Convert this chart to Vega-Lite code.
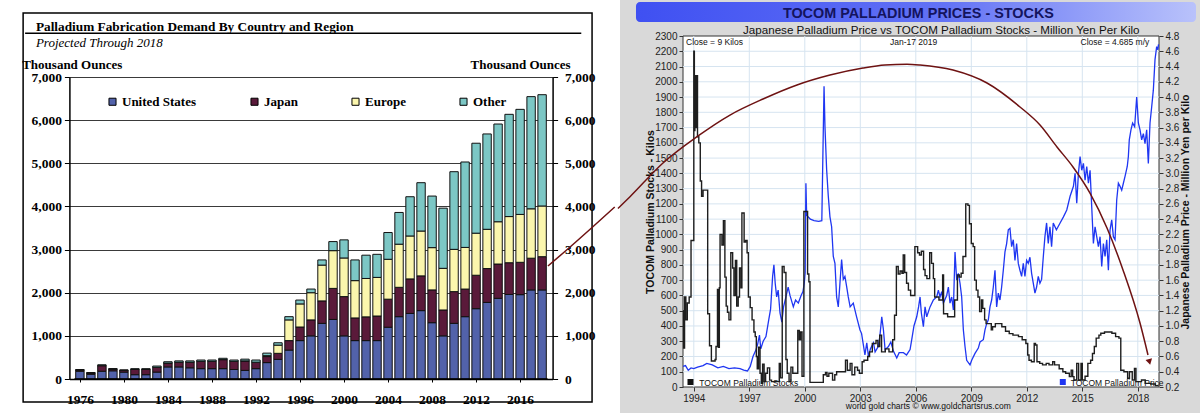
{
"$schema": "https://vega.github.io/schema/vega-lite/v6.json",
"background": "white",
"padding": 0,
"bounds": "flush",
"spacing": 0,
"config": {"view": {"stroke": null}, "font": "Liberation Sans"},
"datasets": {
"one": [{}],
"regionOrder": [{"region":"United States","o":1},{"region":"Japan","o":2},{"region":"Europe","o":3},{"region":"Other","o":4}],
"demand": [
{"yr":1976,"United States":180,"Japan":30,"Europe":0,"Other":10},
{"yr":1977,"United States":110,"Japan":30,"Europe":0,"Other":10},
{"yr":1978,"United States":180,"Japan":130,"Europe":0,"Other":20},
{"yr":1979,"United States":190,"Japan":40,"Europe":0,"Other":10},
{"yr":1980,"United States":160,"Japan":40,"Europe":0,"Other":10},
{"yr":1981,"United States":100,"Japan":120,"Europe":0,"Other":20},
{"yr":1982,"United States":100,"Japan":120,"Europe":0,"Other":20},
{"yr":1983,"United States":160,"Japan":110,"Europe":0,"Other":30},
{"yr":1984,"United States":280,"Japan":90,"Europe":0,"Other":30},
{"yr":1985,"United States":280,"Japan":110,"Europe":0,"Other":30},
{"yr":1986,"United States":260,"Japan":130,"Europe":0,"Other":30},
{"yr":1987,"United States":240,"Japan":170,"Europe":0,"Other":30},
{"yr":1988,"United States":240,"Japan":170,"Europe":0,"Other":30},
{"yr":1989,"United States":240,"Japan":210,"Europe":0,"Other":30},
{"yr":1990,"United States":220,"Japan":190,"Europe":0,"Other":30},
{"yr":1991,"United States":200,"Japan":220,"Europe":0,"Other":40},
{"yr":1992,"United States":240,"Japan":150,"Europe":0,"Other":50},
{"yr":1993,"United States":380,"Japan":140,"Europe":20,"Other":60},
{"yr":1994,"United States":455,"Japan":140,"Europe":190,"Other":55},
{"yr":1995,"United States":670,"Japan":220,"Europe":480,"Other":75},
{"yr":1996,"United States":890,"Japan":315,"Europe":535,"Other":90},
{"yr":1997,"United States":1000,"Japan":370,"Europe":630,"Other":85},
{"yr":1998,"United States":1290,"Japan":520,"Europe":830,"Other":120},
{"yr":1999,"United States":1380,"Japan":720,"Europe":875,"Other":210},
{"yr":2000,"United States":1000,"Japan":910,"Europe":895,"Other":420},
{"yr":2001,"United States":890,"Japan":525,"Europe":865,"Other":480},
{"yr":2002,"United States":890,"Japan":550,"Europe":890,"Other":540},
{"yr":2003,"United States":890,"Japan":570,"Europe":895,"Other":535},
{"yr":2004,"United States":1200,"Japan":650,"Europe":925,"Other":620},
{"yr":2005,"United States":1445,"Japan":680,"Europe":1000,"Other":735},
{"yr":2006,"United States":1520,"Japan":800,"Europe":995,"Other":910},
{"yr":2007,"United States":1585,"Japan":805,"Europe":1040,"Other":1120},
{"yr":2008,"United States":1305,"Japan":760,"Europe":980,"Other":1195},
{"yr":2009,"United States":1000,"Japan":600,"Europe":965,"Other":1395},
{"yr":2010,"United States":1290,"Japan":735,"Europe":980,"Other":1800},
{"yr":2011,"United States":1445,"Japan":640,"Europe":965,"Other":1980},
{"yr":2012,"United States":1630,"Japan":775,"Europe":975,"Other":2085},
{"yr":2013,"United States":1775,"Japan":785,"Europe":910,"Other":2210},
{"yr":2014,"United States":1870,"Japan":795,"Europe":980,"Other":2265},
{"yr":2015,"United States":1960,"Japan":735,"Europe":1070,"Other":2370},
{"yr":2016,"United States":1955,"Japan":750,"Europe":1110,"Other":2435},
{"yr":2017,"United States":2065,"Japan":735,"Europe":1145,"Other":2600},
{"yr":2018,"United States":2065,"Japan":770,"Europe":1175,"Other":2580}
],
"curveL": [
{"t":2018.53,"v":2619},{"t":2020.49,"v":3048},{"t":2022.54,"v":3512},{"t":2024.6,"v":3987}
],
"curveR": [
{"t":1989.9,"k":1170},{"t":1990.551,"k":1247},{"t":1992.335,"k":1468},{"t":1994.173,"k":1640},{"t":1995.957,"k":1782},{"t":1997.741,"k":1887},{"t":1999.578,"k":1979},{"t":2001.362,"k":2044},{"t":2003.146,"k":2090},{"t":2004.335,"k":2110},{"t":2005.524,"k":2115},{"t":2006.227,"k":2110},{"t":2008.011,"k":2077},{"t":2009.849,"k":1992},{"t":2011.632,"k":1835},{"t":2012.714,"k":1717},{"t":2013.632,"k":1573},{"t":2014.497,"k":1442},{"t":2015.416,"k":1271},{"t":2016.335,"k":1042},{"t":2017.2,"k":767},{"t":2018.119,"k":419},{"t":2018.551,"k":210}
],
"hgrid": [{"k":100},{"k":200},{"k":300},{"k":400},{"k":500},{"k":600},{"k":700},{"k":800},{"k":900},{"k":1000},{"k":1100},{"k":1200},{"k":1300},{"k":1400},{"k":1500},{"k":1600},{"k":1700},{"k":1800},{"k":1900},{"k":2000},{"k":2100},{"k":2200}],
"vgrid": [{"t":1994},{"t":1997},{"t":2000},{"t":2003},{"t":2006},{"t":2009},{"t":2012},{"t":2015},{"t":2018}],
"stocks": [
{"t":1993.42,"k":500},{"t":1993.45,"k":255},{"t":1993.5,"k":590},{"t":1993.57,"k":440},{"t":1993.65,"k":550},{"t":1993.75,"k":590},{"t":1993.85,"k":960},{"t":1994.0,"k":2200},{"t":1994.03,"k":1680},{"t":1994.06,"k":2040},{"t":1994.1,"k":1700},{"t":1994.15,"k":2040},{"t":1994.2,"k":1640},{"t":1994.27,"k":1600},{"t":1994.35,"k":1350},{"t":1994.42,"k":1250},{"t":1994.5,"k":1290},{"t":1994.75,"k":480},{"t":1994.85,"k":270},{"t":1994.95,"k":170},{"t":1995.15,"k":180},{"t":1995.2,"k":265},{"t":1995.28,"k":640},{"t":1995.33,"k":260},{"t":1995.38,"k":650},{"t":1995.42,"k":1000},{"t":1995.52,"k":930},{"t":1995.6,"k":1090},{"t":1995.68,"k":720},{"t":1995.75,"k":530},{"t":1995.82,"k":490},{"t":1995.9,"k":440},{"t":1996.0,"k":880},{"t":1996.1,"k":780},{"t":1996.17,"k":600},{"t":1996.25,"k":830},{"t":1996.32,"k":530},{"t":1996.4,"k":590},{"t":1996.47,"k":780},{"t":1996.55,"k":650},{"t":1996.6,"k":1140},{"t":1996.72,"k":950},{"t":1996.8,"k":960},{"t":1996.88,"k":880},{"t":1996.95,"k":590},{"t":1997.05,"k":520},{"t":1997.15,"k":440},{"t":1997.25,"k":360},{"t":1997.32,"k":330},{"t":1997.38,"k":200},{"t":1997.43,"k":120},{"t":1997.5,"k":260},{"t":1997.58,"k":90},{"t":1997.65,"k":25},{"t":1997.72,"k":150},{"t":1997.8,"k":35},{"t":1997.88,"k":90},{"t":1997.98,"k":125},{"t":1998.1,"k":45},{"t":1998.2,"k":35},{"t":1998.62,"k":155},{"t":1998.68,"k":60},{"t":1998.78,"k":790},{"t":1998.88,"k":750},{"t":1998.98,"k":180},{"t":1999.05,"k":90},{"t":1999.15,"k":35},{"t":1999.25,"k":130},{"t":1999.35,"k":90},{"t":1999.62,"k":370},{"t":1999.7,"k":310},{"t":1999.77,"k":360},{"t":1999.85,"k":70},{"t":1999.95,"k":1150},{"t":2000.15,"k":740},{"t":2000.22,"k":690},{"t":2000.28,"k":30},{"t":2001.0,"k":80},{"t":2001.12,"k":95},{"t":2001.2,"k":70},{"t":2001.3,"k":90},{"t":2001.5,"k":45},{"t":2001.62,"k":80},{"t":2001.72,"k":100},{"t":2002.2,"k":175},{"t":2002.3,"k":110},{"t":2002.45,"k":155},{"t":2002.55,"k":80},{"t":2002.7,"k":130},{"t":2002.85,"k":110},{"t":2002.95,"k":90},{"t":2003.1,"k":165},{"t":2003.2,"k":175},{"t":2003.4,"k":200},{"t":2003.5,"k":230},{"t":2003.65,"k":285},{"t":2003.85,"k":305},{"t":2003.95,"k":265},{"t":2004.05,"k":340},{"t":2004.15,"k":230},{"t":2004.35,"k":250},{"t":2004.55,"k":230},{"t":2004.75,"k":310},{"t":2004.85,"k":470},{"t":2004.95,"k":790},{"t":2005.05,"k":740},{"t":2005.15,"k":760},{"t":2005.25,"k":745},{"t":2005.32,"k":865},{"t":2005.4,"k":750},{"t":2005.5,"k":680},{"t":2005.6,"k":635},{"t":2005.72,"k":600},{"t":2005.95,"k":920},{"t":2006.1,"k":880},{"t":2006.2,"k":865},{"t":2006.3,"k":890},{"t":2006.42,"k":770},{"t":2006.5,"k":730},{"t":2006.6,"k":710},{"t":2006.75,"k":880},{"t":2006.85,"k":810},{"t":2006.95,"k":710},{"t":2007.02,"k":590},{"t":2007.25,"k":570},{"t":2007.45,"k":735},{"t":2007.5,"k":480},{"t":2007.72,"k":460},{"t":2008.1,"k":570},{"t":2008.25,"k":735},{"t":2008.35,"k":720},{"t":2008.45,"k":745},{"t":2008.55,"k":855},{"t":2008.7,"k":1200},{"t":2008.82,"k":1190},{"t":2008.9,"k":1070},{"t":2009.0,"k":940},{"t":2009.1,"k":920},{"t":2009.18,"k":700},{"t":2009.27,"k":635},{"t":2009.36,"k":590},{"t":2009.45,"k":495},{"t":2009.55,"k":570},{"t":2009.62,"k":515},{"t":2009.72,"k":440},{"t":2009.8,"k":415},{"t":2010.08,"k":375},{"t":2010.15,"k":395},{"t":2010.3,"k":415},{"t":2010.65,"k":395},{"t":2010.85,"k":365},{"t":2011.05,"k":350},{"t":2011.25,"k":340},{"t":2011.55,"k":330},{"t":2011.75,"k":310},{"t":2011.95,"k":285},{"t":2012.05,"k":210},{"t":2012.12,"k":175},{"t":2012.25,"k":165},{"t":2012.4,"k":285},{"t":2012.47,"k":275},{"t":2012.55,"k":165},{"t":2012.7,"k":155},{"t":2012.85,"k":145},{"t":2013.05,"k":155},{"t":2013.2,"k":145},{"t":2013.4,"k":165},{"t":2013.5,"k":145},{"t":2013.75,"k":120},{"t":2013.95,"k":100},{"t":2014.1,"k":90},{"t":2014.3,"k":68},{"t":2014.4,"k":110},{"t":2014.48,"k":68},{"t":2014.55,"k":46},{"t":2014.7,"k":155},{"t":2014.8,"k":46},{"t":2014.93,"k":155},{"t":2015.0,"k":46},{"t":2015.15,"k":70},{"t":2015.3,"k":155},{"t":2015.45,"k":175},{"t":2015.55,"k":220},{"t":2015.65,"k":265},{"t":2015.75,"k":320},{"t":2015.9,"k":340},{"t":2016.0,"k":352},{"t":2016.2,"k":360},{"t":2016.6,"k":352},{"t":2016.8,"k":330},{"t":2016.98,"k":320},{"t":2017.08,"k":110},{"t":2017.25,"k":100},{"t":2017.45,"k":57},{"t":2017.55,"k":100},{"t":2017.7,"k":46},{"t":2017.82,"k":122},{"t":2017.9,"k":35},{"t":2018.2,"k":46},{"t":2018.4,"k":24},{"t":2018.7,"k":20},{"t":2018.95,"k":9},{"t":2019.12,"k":9}
],
"price": [
{"t":1993.42,"p":0.47},{"t":1993.55,"p":0.48},{"t":1993.7,"p":0.42},{"t":1993.85,"p":0.45},{"t":1994.0,"p":0.44},{"t":1994.2,"p":0.46},{"t":1994.5,"p":0.48},{"t":1994.7,"p":0.51},{"t":1995.0,"p":0.49},{"t":1995.3,"p":0.45},{"t":1995.6,"p":0.47},{"t":1995.9,"p":0.44},{"t":1996.2,"p":0.45},{"t":1996.5,"p":0.44},{"t":1996.7,"p":0.42},{"t":1996.9,"p":0.41},{"t":1997.05,"p":0.47},{"t":1997.2,"p":0.6},{"t":1997.35,"p":0.68},{"t":1997.45,"p":0.76},{"t":1997.55,"p":0.88},{"t":1997.62,"p":0.7},{"t":1997.75,"p":0.8},{"t":1997.9,"p":0.86},{"t":1998.05,"p":1.08},{"t":1998.15,"p":1.22},{"t":1998.26,"p":1.65},{"t":1998.33,"p":1.8},{"t":1998.4,"p":1.56},{"t":1998.48,"p":1.38},{"t":1998.56,"p":1.47},{"t":1998.66,"p":1.17},{"t":1998.76,"p":1.05},{"t":1998.85,"p":1.25},{"t":1998.98,"p":1.38},{"t":1999.1,"p":1.51},{"t":1999.2,"p":1.4},{"t":1999.38,"p":1.25},{"t":1999.5,"p":1.34},{"t":1999.65,"p":1.3},{"t":1999.8,"p":1.4},{"t":1999.9,"p":1.45},{"t":1999.97,"p":1.56},{"t":2000.02,"p":1.7},{"t":2000.06,"p":2.87},{"t":2000.1,"p":2.45},{"t":2000.3,"p":2.4},{"t":2000.5,"p":2.38},{"t":2000.75,"p":2.37},{"t":2000.92,"p":2.38},{"t":2000.97,"p":3.13},{"t":2001.04,"p":4.14},{"t":2001.09,"p":3.61},{"t":2001.18,"p":3.05},{"t":2001.27,"p":2.7},{"t":2001.36,"p":2.43},{"t":2001.45,"p":2.3},{"t":2001.54,"p":1.91},{"t":2001.63,"p":1.82},{"t":2001.72,"p":1.38},{"t":2001.81,"p":1.25},{"t":2001.9,"p":1.56},{"t":2001.99,"p":1.87},{"t":2002.08,"p":1.61},{"t":2002.17,"p":1.65},{"t":2002.26,"p":1.52},{"t":2002.35,"p":1.38},{"t":2002.45,"p":1.25},{"t":2002.62,"p":1.3},{"t":2002.8,"p":1.12},{"t":2002.98,"p":0.95},{"t":2003.07,"p":0.9},{"t":2003.25,"p":0.62},{"t":2003.35,"p":0.78},{"t":2003.44,"p":0.6},{"t":2003.55,"p":0.7},{"t":2003.71,"p":0.78},{"t":2003.8,"p":0.66},{"t":2003.97,"p":0.73},{"t":2004.06,"p":0.87},{"t":2004.16,"p":1.12},{"t":2004.25,"p":0.95},{"t":2004.34,"p":0.69},{"t":2004.52,"p":0.73},{"t":2004.65,"p":0.79},{"t":2004.79,"p":0.67},{"t":2004.97,"p":0.58},{"t":2005.1,"p":0.65},{"t":2005.33,"p":0.65},{"t":2005.5,"p":0.62},{"t":2005.69,"p":0.69},{"t":2005.8,"p":0.85},{"t":2005.9,"p":1.0},{"t":2006.05,"p":1.12},{"t":2006.15,"p":1.25},{"t":2006.23,"p":1.38},{"t":2006.3,"p":1.17},{"t":2006.41,"p":0.99},{"t":2006.5,"p":1.25},{"t":2006.59,"p":1.12},{"t":2006.77,"p":1.25},{"t":2006.95,"p":1.34},{"t":2007.13,"p":1.38},{"t":2007.22,"p":1.47},{"t":2007.31,"p":1.38},{"t":2007.4,"p":1.45},{"t":2007.49,"p":1.3},{"t":2007.67,"p":1.4},{"t":2007.76,"p":1.51},{"t":2007.85,"p":1.3},{"t":2007.94,"p":1.38},{"t":2008.03,"p":1.21},{"t":2008.12,"p":1.97},{"t":2008.21,"p":1.6},{"t":2008.3,"p":1.69},{"t":2008.39,"p":1.56},{"t":2008.48,"p":1.38},{"t":2008.57,"p":0.95},{"t":2008.66,"p":0.73},{"t":2008.75,"p":0.55},{"t":2008.93,"p":0.49},{"t":2009.02,"p":0.55},{"t":2009.2,"p":0.64},{"t":2009.38,"p":0.71},{"t":2009.47,"p":0.79},{"t":2009.65,"p":0.82},{"t":2009.74,"p":0.95},{"t":2009.83,"p":1.03},{"t":2009.92,"p":1.08},{"t":2010.01,"p":1.25},{"t":2010.1,"p":1.34},{"t":2010.19,"p":1.51},{"t":2010.28,"p":1.73},{"t":2010.37,"p":1.25},{"t":2010.46,"p":1.43},{"t":2010.55,"p":1.34},{"t":2010.64,"p":1.51},{"t":2010.73,"p":1.73},{"t":2010.82,"p":1.97},{"t":2010.91,"p":2.08},{"t":2011.0,"p":2.26},{"t":2011.09,"p":2.28},{"t":2011.18,"p":2.04},{"t":2011.27,"p":2.13},{"t":2011.36,"p":1.86},{"t":2011.45,"p":2.08},{"t":2011.54,"p":1.82},{"t":2011.63,"p":1.73},{"t":2011.72,"p":1.65},{"t":2011.81,"p":1.82},{"t":2011.9,"p":1.65},{"t":2011.99,"p":1.86},{"t":2012.08,"p":1.82},{"t":2012.17,"p":1.9},{"t":2012.26,"p":1.69},{"t":2012.35,"p":1.56},{"t":2012.44,"p":1.43},{"t":2012.53,"p":1.51},{"t":2012.62,"p":1.65},{"t":2012.71,"p":1.56},{"t":2012.8,"p":1.61},{"t":2012.89,"p":1.9},{"t":2012.98,"p":2.17},{"t":2013.07,"p":2.35},{"t":2013.16,"p":2.08},{"t":2013.25,"p":2.3},{"t":2013.34,"p":2.04},{"t":2013.43,"p":2.35},{"t":2013.6,"p":2.26},{"t":2013.8,"p":2.35},{"t":2013.98,"p":2.43},{"t":2014.16,"p":2.52},{"t":2014.34,"p":2.7},{"t":2014.52,"p":2.83},{"t":2014.61,"p":3.0},{"t":2014.7,"p":2.61},{"t":2014.79,"p":3.0},{"t":2014.88,"p":3.22},{"t":2014.97,"p":3.04},{"t":2015.06,"p":3.13},{"t":2015.15,"p":2.91},{"t":2015.24,"p":3.09},{"t":2015.33,"p":2.87},{"t":2015.42,"p":3.04},{"t":2015.51,"p":2.56},{"t":2015.6,"p":2.08},{"t":2015.69,"p":2.3},{"t":2015.78,"p":2.17},{"t":2015.87,"p":2.04},{"t":2015.96,"p":2.17},{"t":2016.05,"p":1.78},{"t":2016.14,"p":2.08},{"t":2016.23,"p":1.91},{"t":2016.32,"p":2.13},{"t":2016.41,"p":1.73},{"t":2016.5,"p":2.26},{"t":2016.59,"p":2.39},{"t":2016.68,"p":2.17},{"t":2016.77,"p":2.13},{"t":2016.86,"p":2.65},{"t":2016.95,"p":2.87},{"t":2017.04,"p":2.83},{"t":2017.13,"p":2.78},{"t":2017.22,"p":2.87},{"t":2017.31,"p":2.96},{"t":2017.43,"p":3.09},{"t":2017.49,"p":3.22},{"t":2017.54,"p":3.44},{"t":2017.63,"p":3.57},{"t":2017.72,"p":3.66},{"t":2017.83,"p":3.61},{"t":2017.94,"p":4.0},{"t":2018.03,"p":3.66},{"t":2018.12,"p":3.57},{"t":2018.21,"p":3.44},{"t":2018.3,"p":3.52},{"t":2018.39,"p":3.39},{"t":2018.48,"p":3.57},{"t":2018.57,"p":3.13},{"t":2018.66,"p":3.66},{"t":2018.75,"p":3.87},{"t":2018.84,"p":4.09},{"t":2018.93,"p":4.49},{"t":2019.02,"p":4.66},{"t":2019.08,"p":4.62},{"t":2019.12,"p":4.69}
]
},
"hconcat": [
{
"width": 620, "height": 413,
"view": {"fill": "white", "stroke": null},
"layer": [
{"data": {"name": "one"}, "mark": {"type": "rect", "fill": "white", "fillOpacity": 0, "stroke": "black", "strokeWidth": 1.5},
 "encoding": {
  "x": {"datum": 1970.84, "type": "quantitative", "scale": {"domain": [1975.5, 2018.5], "range": [69.4, 552.6], "nice": false, "zero": false}, "axis": null},
  "x2": {"datum": 2022.54},
  "y": {"datum": 8483, "type": "quantitative", "scale": {"domain": [0, 7000], "range": [379, 77], "nice": false, "zero": false}, "axis": null},
  "y2": {"datum": -533}}},
{"data": {"name": "demand"},
 "transform": [
  {"fold": ["United States", "Japan", "Europe", "Other"], "as": ["region", "value"]},
  {"lookup": "region", "from": {"data": {"name": "regionOrder"}, "key": "region", "fields": ["o"]}}
 ],
 "mark": {"type": "bar", "width": 8.4, "stroke": "#111111", "strokeWidth": 1},
 "encoding": {
  "x": {"field": "yr", "type": "quantitative", "scale": {"domain": [1975.5, 2018.5], "range": [69.4, 552.6], "nice": false, "zero": false},
    "axis": {"orient": "bottom", "offset": -34, "values": [1976,1980,1984,1988,1992,1996,2000,2004,2008,2012,2016], "format": "d", "grid": false, "domain": true, "domainColor": "black", "domainWidth": 1.5, "ticks": true, "tickSize": 3, "tickColor": "black", "labelFont": "Liberation Serif", "labelFontWeight": "bold", "labelFontSize": 13.5, "labelColor": "black", "labelPadding": 10, "labelFlush": false, "labelOverlap": false, "title": null}},
  "y": {"field": "value", "type": "quantitative", "stack": "zero", "scale": {"domain": [0, 7000], "range": [379, 77], "nice": false, "zero": false},
    "axis": {"orient": "left", "offset": -69.4, "values": [0,1000,2000,3000,4000,5000,6000,7000], "format": ",d", "grid": true, "gridColor": "#3a3a3a", "gridWidth": 1, "domain": true, "domainColor": "black", "domainWidth": 1.5, "tickSize": 5, "tickColor": "black", "labelPadding": 3, "labelFont": "Liberation Serif", "labelFontWeight": "bold", "labelFontSize": 13.5, "labelColor": "black", "labelFlush": false,
      "title": "Thousand Ounces", "titleAngle": 0, "titleX": -47.7, "titleY": 68, "titleAlign": "left", "titleBaseline": "alphabetic", "titleFont": "Liberation Serif", "titleFontWeight": "bold", "titleFontSize": 13, "titleColor": "black"}},
  "color": {"field": "region", "type": "nominal",
    "scale": {"domain": ["United States", "Japan", "Europe", "Other"], "range": ["#5262aa", "#5a1a3a", "#fbf6ad", "#7cc7c5"]},
    "legend": {"orient": "none", "legendX": 106, "legendY": 95, "direction": "horizontal", "columns": 4, "columnPadding": 51, "title": null, "symbolType": "square", "symbolSize": 50, "symbolStrokeColor": "black", "symbolStrokeWidth": 1, "symbolOpacity": 1, "labelFont": "Liberation Serif", "labelFontWeight": "bold", "labelFontSize": 13, "labelColor": "black", "labelOffset": 3, "padding": 0}},
  "order": {"field": "o", "type": "quantitative", "sort": "ascending"}
 }},
{"data": {"name": "one"}, "mark": {"type": "rule", "color": "black", "strokeWidth": 1.5},
 "encoding": {
  "x": {"datum": 1975.5, "type": "quantitative", "scale": {"domain": [1975.5, 2018.5], "range": [69.4, 552.6], "nice": false, "zero": false}, "axis": null},
  "x2": {"datum": 2018.5},
  "y": {"datum": 0, "type": "quantitative", "scale": {"domain": [0, 7000], "range": [379, 77], "nice": false, "zero": false},
    "axis": {"orient": "right", "offset": -67.4, "values": [0,1000,2000,3000,4000,5000,6000,7000], "format": ",d", "grid": false, "domain": true, "domainColor": "black", "domainWidth": 1.5, "tickSize": 5, "tickColor": "black", "labelPadding": 7, "labelFont": "Liberation Serif", "labelFontWeight": "bold", "labelFontSize": 13.5, "labelColor": "black", "labelFlush": false,
      "title": "Thousand Ounces", "titleAngle": 0, "titleX": -82.6, "titleY": 68, "titleAlign": "left", "titleBaseline": "alphabetic", "titleFont": "Liberation Serif", "titleFontWeight": "bold", "titleFontSize": 13, "titleColor": "black"}}}},
{"data": {"name": "one"}, "mark": {"type": "rule", "color": "black", "strokeWidth": 1.5},
 "encoding": {
  "x": {"datum": 1971.02, "type": "quantitative", "scale": {"domain": [1975.5, 2018.5], "range": [69.4, 552.6], "nice": false, "zero": false},
    "axis": {"orient": "top", "labels": false, "ticks": false, "domain": false, "grid": false, "title": null}},
  "x2": {"datum": 2021.56},
  "y": {"datum": 8013, "type": "quantitative", "scale": {"domain": [0, 7000], "range": [379, 77], "nice": false, "zero": false}, "axis": null}}},
{"data": {"name": "one"}, "mark": {"type": "text", "text": "Palladium Fabrication Demand By Country and Region", "align": "left", "baseline": "alphabetic", "font": "Liberation Serif", "fontWeight": "bold", "fontSize": 13.3, "color": "black"},
 "encoding": {
  "x": {"datum": 1972.0, "type": "quantitative", "scale": {"domain": [1975.5, 2018.5], "range": [69.4, 552.6], "nice": false, "zero": false}, "axis": null},
  "y": {"datum": 8066, "type": "quantitative", "scale": {"domain": [0, 7000], "range": [379, 77], "nice": false, "zero": false}, "axis": null}}},
{"data": {"name": "one"}, "mark": {"type": "text", "text": "Projected Through 2018", "align": "left", "baseline": "alphabetic", "font": "Liberation Serif", "fontStyle": "italic", "fontSize": 13, "color": "black"},
 "encoding": {
  "x": {"datum": 1972.0, "type": "quantitative", "scale": {"domain": [1975.5, 2018.5], "range": [69.4, 552.6], "nice": false, "zero": false}, "axis": null},
  "y": {"datum": 7695, "type": "quantitative", "scale": {"domain": [0, 7000], "range": [379, 77], "nice": false, "zero": false}, "axis": null}}},
{"data": {"name": "curveL"}, "mark": {"type": "line", "color": "#6e1212", "strokeWidth": 1.5, "interpolate": "monotone"},
 "encoding": {
  "x": {"field": "t", "type": "quantitative", "scale": {"domain": [1975.5, 2018.5], "range": [69.4, 552.6], "nice": false, "zero": false}, "axis": null},
  "y": {"field": "v", "type": "quantitative", "scale": {"domain": [0, 7000], "range": [379, 77], "nice": false, "zero": false}, "axis": null}}}
]
},
{
"width": 580, "height": 413,
"view": {"fill": "#d9d9d9", "stroke": null},
"resolve": {"scale": {"y": "independent"}},
"layer": [
{"data": {"name": "one"}, "mark": {"type": "rect", "cornerRadius": 4, "color": {"gradient": "linear", "x1": 0, "x2": 1, "y1": 0, "y2": 0, "stops": [{"offset": 0, "color": "#3f50f2"}, {"offset": 0.55, "color": "#6272f5"}, {"offset": 1, "color": "#b9c2fb"}]}},
 "encoding": {
  "x": {"datum": 1990.875, "type": "quantitative", "scale": {"domain": [1993.416, 2019.146], "range": [63, 539], "nice": false, "zero": false}, "axis": null},
  "x2": {"datum": 2021.146},
  "y": {"datum": 2522.8, "type": "quantitative", "scale": {"domain": [0, 2300], "range": [387, 36], "nice": false, "zero": false}, "axis": null},
  "y2": {"datum": 2391.7}}},
{"data": {"name": "one"}, "mark": {"type": "text", "text": "TOCOM PALLADIUM PRICES - STOCKS", "align": "center", "baseline": "alphabetic", "font": "Liberation Sans", "fontWeight": "bold", "fontSize": 14.4, "color": "#14145e"},
 "encoding": {
  "x": {"datum": 2006.14, "type": "quantitative", "scale": {"domain": [1993.416, 2019.146], "range": [63, 539], "nice": false, "zero": false}, "axis": null},
  "y": {"datum": 2421, "type": "quantitative", "scale": {"domain": [0, 2300], "range": [387, 36], "nice": false, "zero": false}, "axis": null}}},
{"data": {"name": "one"}, "mark": {"type": "text", "text": "Japanese Palladium Price vs TOCOM Palladium Stocks - Million Yen Per Kilo", "align": "center", "baseline": "alphabetic", "font": "Liberation Sans", "fontSize": 11.6, "color": "#111111"},
 "encoding": {
  "x": {"datum": 2007.378, "type": "quantitative", "scale": {"domain": [1993.416, 2019.146], "range": [63, 539], "nice": false, "zero": false}, "axis": null},
  "y": {"datum": 2313, "type": "quantitative", "scale": {"domain": [0, 2300], "range": [387, 36], "nice": false, "zero": false}, "axis": null}}},
{"data": {"name": "one"}, "mark": {"type": "rect", "fill": "white", "stroke": "#333333", "strokeWidth": 1},
 "encoding": {
  "x": {"datum": 1993.416, "type": "quantitative", "scale": {"domain": [1993.416, 2019.146], "range": [63, 539], "nice": false, "zero": false}, "axis": null},
  "x2": {"datum": 2019.146},
  "y": {"datum": 0, "type": "quantitative", "scale": {"domain": [0, 2300], "range": [387, 36], "nice": false, "zero": false}, "axis": null},
  "y2": {"datum": 2300}}},
{"data": {"name": "hgrid"}, "mark": {"type": "rule", "color": "#d6e4f0", "strokeWidth": 1},
 "encoding": {
  "x": {"datum": 1993.416, "type": "quantitative", "scale": {"domain": [1993.416, 2019.146], "range": [63, 539], "nice": false, "zero": false}, "axis": null},
  "x2": {"datum": 2019.146},
  "y": {"field": "k", "type": "quantitative", "scale": {"domain": [0, 2300], "range": [387, 36], "nice": false, "zero": false}, "axis": null}}},
{"data": {"name": "vgrid"}, "mark": {"type": "rule", "color": "#d6e4f0", "strokeWidth": 1},
 "encoding": {
  "x": {"field": "t", "type": "quantitative", "scale": {"domain": [1993.416, 2019.146], "range": [63, 539], "nice": false, "zero": false},
    "axis": {"orient": "top", "labels": false, "ticks": false, "domain": false, "grid": false, "title": null}},
  "y": {"datum": 0, "type": "quantitative", "scale": {"domain": [0, 2300], "range": [387, 36], "nice": false, "zero": false}, "axis": null},
  "y2": {"datum": 2300}}},
{"data": {"name": "one"}, "mark": {"type": "text", "text": "Close = 9 Kilos", "align": "left", "baseline": "alphabetic", "font": "Liberation Sans", "fontSize": 8.5, "color": "#111111"},
 "encoding": {
  "x": {"datum": 1993.578, "type": "quantitative", "scale": {"domain": [1993.416, 2019.146], "range": [63, 539], "nice": false, "zero": false}, "axis": null},
  "y": {"datum": 2238, "type": "quantitative", "scale": {"domain": [0, 2300], "range": [387, 36], "nice": false, "zero": false}, "axis": null}}},
{"data": {"name": "one"}, "mark": {"type": "text", "text": "Jan-17  2019", "align": "left", "baseline": "alphabetic", "font": "Liberation Sans", "fontSize": 8.5, "color": "#111111"},
 "encoding": {
  "x": {"datum": 2004.605, "type": "quantitative", "scale": {"domain": [1993.416, 2019.146], "range": [63, 539], "nice": false, "zero": false}, "axis": null},
  "y": {"datum": 2238, "type": "quantitative", "scale": {"domain": [0, 2300], "range": [387, 36], "nice": false, "zero": false}, "axis": null}}},
{"data": {"name": "one"}, "mark": {"type": "text", "text": "Close = 4.685 m/y", "align": "right", "baseline": "alphabetic", "font": "Liberation Sans", "fontSize": 8.5, "color": "#111111"},
 "encoding": {
  "x": {"datum": 2018.621, "type": "quantitative", "scale": {"domain": [1993.416, 2019.146], "range": [63, 539], "nice": false, "zero": false}, "axis": null},
  "y": {"datum": 2238, "type": "quantitative", "scale": {"domain": [0, 2300], "range": [387, 36], "nice": false, "zero": false}, "axis": null}}},
{"data": {"name": "one"}, "mark": {"type": "point", "shape": "square", "size": 36, "filled": true, "opacity": 1, "color": "#111111"},
 "encoding": {
  "x": {"datum": 1993.821, "type": "quantitative", "scale": {"domain": [1993.416, 2019.146], "range": [63, 539], "nice": false, "zero": false}, "axis": null},
  "y": {"datum": 32.8, "type": "quantitative", "scale": {"domain": [0, 2300], "range": [387, 36], "nice": false, "zero": false}, "axis": null}}},
{"data": {"name": "one"}, "mark": {"type": "text", "text": "TOCOM Palladium Stocks", "align": "left", "baseline": "alphabetic", "font": "Liberation Sans", "fontSize": 8.5, "color": "#111111"},
 "encoding": {
  "x": {"datum": 1994.297, "type": "quantitative", "scale": {"domain": [1993.416, 2019.146], "range": [63, 539], "nice": false, "zero": false}, "axis": null},
  "y": {"datum": 9.8, "type": "quantitative", "scale": {"domain": [0, 2300], "range": [387, 36], "nice": false, "zero": false}, "axis": null}}},
{"data": {"name": "one"}, "mark": {"type": "point", "shape": "square", "size": 36, "filled": true, "opacity": 1, "color": "#1f36f2"},
 "encoding": {
  "x": {"datum": 2013.946, "type": "quantitative", "scale": {"domain": [1993.416, 2019.146], "range": [63, 539], "nice": false, "zero": false}, "axis": null},
  "y": {"datum": 32.8, "type": "quantitative", "scale": {"domain": [0, 2300], "range": [387, 36], "nice": false, "zero": false}, "axis": null}}},
{"data": {"name": "one"}, "mark": {"type": "text", "text": "TOCOM Palladium Price", "align": "left", "baseline": "alphabetic", "font": "Liberation Sans", "fontSize": 8.5, "color": "#111111"},
 "encoding": {
  "x": {"datum": 2014.373, "type": "quantitative", "scale": {"domain": [1993.416, 2019.146], "range": [63, 539], "nice": false, "zero": false}, "axis": null},
  "y": {"datum": 9.8, "type": "quantitative", "scale": {"domain": [0, 2300], "range": [387, 36], "nice": false, "zero": false}, "axis": null}}},
{"data": {"name": "one"}, "mark": {"type": "text", "text": "world gold charts © www.goldchartsrus.com", "align": "center", "baseline": "alphabetic", "font": "Liberation Sans", "fontSize": 8.5, "color": "#111111"},
 "encoding": {
  "x": {"datum": 2006.675, "type": "quantitative", "scale": {"domain": [1993.416, 2019.146], "range": [63, 539], "nice": false, "zero": false}, "axis": null},
  "y": {"datum": -147.4, "type": "quantitative", "scale": {"domain": [0, 2300], "range": [387, 36], "nice": false, "zero": false}, "axis": null}}},
{"data": {"name": "price"}, "mark": {"type": "line", "color": "#1f36f2", "strokeWidth": 1.3},
 "encoding": {
  "x": {"field": "t", "type": "quantitative", "scale": {"domain": [1993.416, 2019.146], "range": [63, 539], "nice": false, "zero": false}, "axis": null},
  "y": {"field": "p", "type": "quantitative", "scale": {"domain": [0.2, 4.8], "range": [387, 36], "nice": false, "zero": false},
    "axis": {"orient": "right", "offset": -41, "values": [0.2,0.4,0.6,0.8,1.0,1.2,1.4,1.6,1.8,2.0,2.2,2.4,2.6,2.8,3.0,3.2,3.4,3.6,3.8,4.0,4.2,4.4,4.6,4.8], "format": ".1f", "grid": false, "domain": false, "tickSize": 4, "tickColor": "#333333", "labelPadding": 2, "labelFont": "Liberation Sans Narrow, Liberation Sans", "labelFontSize": 10, "labelColor": "#222222", "labelFlush": false,
      "title": "Japanese Palladium Price - Million Yen per Kilo", "titleAngle": 270, "titleX": 26, "titleBaseline": "middle", "titleFont": "Liberation Sans", "titleFontWeight": "bold", "titleFontSize": 10.5, "titleColor": "#111111"}}}},
{"data": {"name": "stocks"}, "mark": {"type": "line", "interpolate": "step-after", "color": "#1e1e1e", "strokeWidth": 1.4},
 "encoding": {
  "x": {"field": "t", "type": "quantitative", "scale": {"domain": [1993.416, 2019.146], "range": [63, 539], "nice": false, "zero": false},
    "axis": {"orient": "bottom", "offset": -26, "values": [1994,1997,2000,2003,2006,2009,2012,2015,2018], "format": "d", "grid": false, "domain": false, "tickSize": 4, "tickColor": "#333333", "labelPadding": 2, "labelFont": "Liberation Sans Narrow, Liberation Sans", "labelFontSize": 10, "labelColor": "#222222", "labelFlush": false, "title": null}},
  "y": {"field": "k", "type": "quantitative", "scale": {"domain": [0, 2300], "range": [387, 36], "nice": false, "zero": false},
    "axis": {"orient": "left", "offset": -63, "values": [0,100,200,300,400,500,600,700,800,900,1000,1100,1200,1300,1400,1500,1600,1700,1800,1900,2000,2100,2200,2300], "format": "d", "grid": false, "domain": false, "tickSize": 4, "tickColor": "#333333", "labelPadding": 2, "labelFont": "Liberation Sans Narrow, Liberation Sans", "labelFontSize": 10, "labelColor": "#222222", "labelFlush": false,
      "title": "TOCOM Palladium Stocks - Kilos", "titleAngle": 270, "titleX": -33, "titleBaseline": "middle", "titleFont": "Liberation Sans", "titleFontWeight": "bold", "titleFontSize": 10.5, "titleColor": "#111111"}}}},
{"data": {"name": "curveR"}, "mark": {"type": "line", "color": "#6e1212", "strokeWidth": 1.5, "interpolate": "monotone"},
 "encoding": {
  "x": {"field": "t", "type": "quantitative", "scale": {"domain": [1993.416, 2019.146], "range": [63, 539], "nice": false, "zero": false}, "axis": null},
  "y": {"field": "k", "type": "quantitative", "scale": {"domain": [0, 2300], "range": [387, 36], "nice": false, "zero": false}, "axis": null}}},
{"data": {"name": "one"}, "mark": {"type": "point", "shape": "triangle-down", "size": 45, "filled": true, "opacity": 1, "color": "#6e1212", "angle": -14},
 "encoding": {
  "x": {"datum": 2018.632, "type": "quantitative", "scale": {"domain": [1993.416, 2019.146], "range": [63, 539], "nice": false, "zero": false}, "axis": null},
  "y": {"datum": 164, "type": "quantitative", "scale": {"domain": [0, 2300], "range": [387, 36], "nice": false, "zero": false}, "axis": null}}}
]
}
]
}
